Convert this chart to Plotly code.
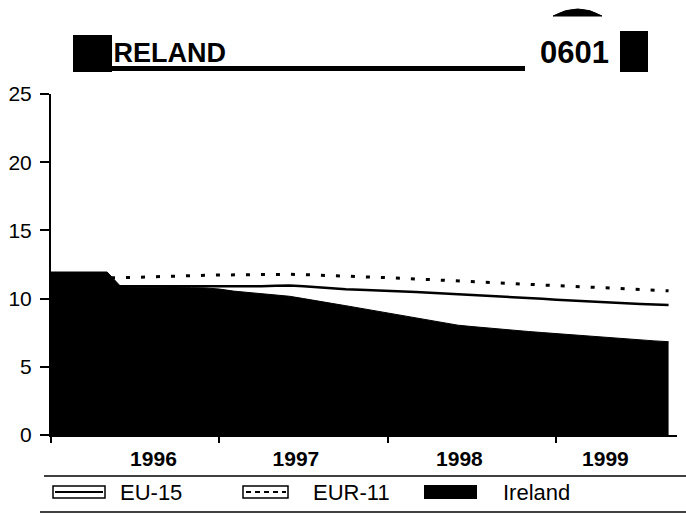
import plotly.graph_objects as go

# ---- data (monthly, Jan 1996 = 0) ----
months = list(range(45))
ireland = [11.95, 11.95, 11.95, 11.95, 11.95,
           10.85, 10.85, 10.85, 10.85, 10.82, 10.8, 10.78,
           10.7, 10.55, 10.45, 10.35, 10.25, 10.17, 10.0, 9.85, 9.65, 9.48, 9.3, 9.12,
           8.92, 8.75, 8.58, 8.4, 8.23, 8.05, 7.95, 7.85, 7.75, 7.67, 7.59, 7.51,
           7.43, 7.35, 7.25, 7.18, 7.11, 7.04, 6.97, 6.9, 6.84]
eu15 = [10.9, 10.9, 10.9, 10.9, 10.9,
        10.9, 10.9, 10.9, 10.9, 10.88, 10.86, 10.85,
        10.85, 10.85, 10.86, 10.9, 10.94, 10.96, 10.9, 10.82, 10.72, 10.68, 10.65, 10.62,
        10.57, 10.53, 10.48, 10.43, 10.38, 10.33, 10.28, 10.22, 10.17, 10.12, 10.05, 9.98,
        9.92, 9.86, 9.8, 9.75, 9.7, 9.65, 9.61, 9.57, 9.53]
eur11 = [11.5, 11.5, 11.5, 11.5, 11.5,
         11.53, 11.56, 11.6, 11.63, 11.66, 11.69, 11.71,
         11.73, 11.75, 11.77, 11.78, 11.78, 11.78, 11.76, 11.73, 11.7, 11.66, 11.62, 11.58,
         11.53, 11.49, 11.44, 11.39, 11.35, 11.3, 11.24, 11.17, 11.1, 11.06, 11.02, 10.98,
         10.94, 10.9, 10.86, 10.82, 10.77, 10.72, 10.67, 10.62, 10.57]
year_labels = ["<b>1996</b>", "<b>1997</b>", "<b>1998</b>", "<b>1999</b>"]
year_label_pos = [7.3, 17.45, 29.1, 39.5]
year_starts = [0, 12, 24, 36]
y_ticks = [0, 5, 10, 15, 20, 25]
legend_names = ["EU-15", "EUR-11", "Ireland"]

FONT = "Liberation Sans, Arial, Helvetica, sans-serif"
W, H = 686, 514
L, R, T, B = 51, 9, 94, 79
PW, PH = W - L - R, H - T - B
BOTTOM = H - B


def px(x):
    return (x - L) / PW


def py(y):
    return (BOTTOM - y) / PH


fig = go.Figure()
fig.add_trace(go.Scatter(x=months, y=eu15, mode="lines", name=legend_names[0],
                         line=dict(color="black", width=2.5), showlegend=False))
fig.add_trace(go.Scatter(x=months, y=eur11, mode="lines", name=legend_names[1],
                         line=dict(color="black", width=3, dash="4px,11px"), showlegend=False))
fig.add_trace(go.Scatter(x=months, y=ireland, mode="lines", name=legend_names[2],
                         fill="tozeroy", fillcolor="black",
                         line=dict(color="black", width=1), showlegend=False))

shapes = []
annotations = []


def rect(x0, y0, x1, y1, fill="black", line_color="black", lw=0):
    shapes.append(dict(type="rect", xref="paper", yref="paper",
                       x0=px(x0), x1=px(x1), y0=py(y1), y1=py(y0),
                       fillcolor=fill, line=dict(color=line_color, width=lw)))


def hline(x0, x1, y, lw=1.5, dash="solid"):
    shapes.append(dict(type="line", xref="paper", yref="paper",
                       x0=px(x0), x1=px(x1), y0=py(y), y1=py(y),
                       line=dict(color="black", width=lw, dash=dash)))


def text(x, y, s, size, bold=False, anchor="left"):
    annotations.append(dict(xref="paper", yref="paper", x=px(x), y=py(y),
                            xanchor=anchor, yanchor="middle", showarrow=False,
                            text=("<b>%s</b>" % s) if bold else s,
                            font=dict(family=FONT, size=size, color="black")))


# ---- header ----
rect(73, 35, 112, 72)
rect(112, 66, 525, 71)
rect(620, 31, 648, 72)
text(104, 53, "IRELAND", 27, bold=True)
text(538, 52, "0601", 31, bold=True)
# arc at top right
shapes.append(dict(type="path", xref="paper", yref="paper",
                   path="M%f,%f Q%f,%f %f,%f Z" % (px(553), py(16), px(578), py(2), px(602), py(16)),
                   fillcolor="black", line=dict(color="black", width=1)))

# ---- rules and manual legend ----
hline(44, 686, 476, lw=1.5)
hline(40, 686, 512, lw=1.5)
ly = 492
rect(53, ly - 6, 105, ly + 6, fill="white", line_color="black", lw=1.5)
hline(55, 103, ly, lw=2)
text(118, ly, legend_names[0], 22)
rect(243, ly - 6, 288, ly + 6, fill="white", line_color="black", lw=1.5)
hline(246, 286, ly, lw=2, dash="5px,4px")
text(311, ly, legend_names[1], 22)
rect(424, ly - 7, 477, ly + 7)
text(501, ly, legend_names[2], 22)

fig.update_layout(
    width=W, height=H,
    margin=dict(l=L, r=R, t=T, b=B, pad=0),
    paper_bgcolor="white", plot_bgcolor="white",
    showlegend=False,
    shapes=shapes, annotations=annotations,
    font=dict(family=FONT, color="black"),
    xaxis=dict(range=[0, 44.6], showgrid=False, zeroline=False,
               showline=True, linecolor="black", linewidth=2,
               tickmode="array", tickvals=year_label_pos, ticktext=year_labels,
               ticks="", ticklabelstandoff=4,
               tickfont=dict(family=FONT, size=21, color="black"),
               minor=dict(tickmode="array", tickvals=year_starts, ticks="outside",
                          ticklen=6, tickwidth=2, tickcolor="black")),
    yaxis=dict(range=[0, 25], showgrid=False, zeroline=False,
               showline=True, linecolor="black", linewidth=2,
               tickmode="array", tickvals=y_ticks,
               ticks="outside", ticklen=9, tickwidth=2, tickcolor="black",
               ticklabelstandoff=4,
               tickfont=dict(family=FONT, size=21, color="black")),
)

fig.write_html("out.html", config={"displayModeBar": False},
               post_script="document.body.style.margin='0';document.body.style.padding='0';")
